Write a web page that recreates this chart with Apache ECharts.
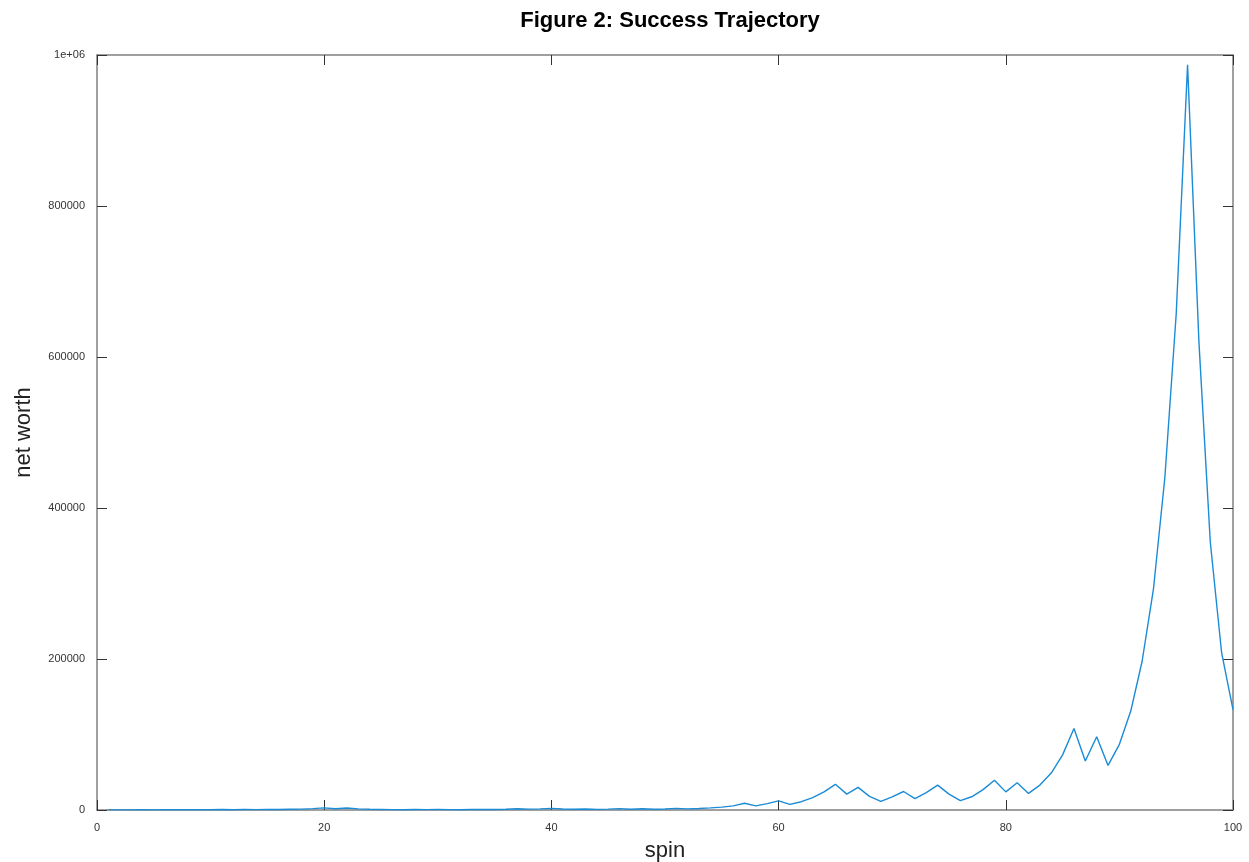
<!DOCTYPE html>
<html>
<head>
<meta charset="utf-8">
<script src="https://cdn.jsdelivr.net/npm/echarts@6/dist/echarts.min.js"></script>
<style>html,body{margin:0;padding:0;background:#fff;}#c{width:1249px;height:862px;}</style>
</head>
<body>
<div id="c"></div>
<script>
const spins = [];
for (let i = 1; i <= 100; i++) spins.push(i);
const netWorth = [
  100, 200, 100, 300, 200, 400, 300, 500, 300, 400,
  600, 400, 700, 500, 800, 600, 900, 1200, 1800, 2800,
  1700, 2600, 1500, 900, 700, 500, 400, 600, 500, 700,
  500, 400, 600, 800, 700, 1000, 1700, 1100, 1500, 2200,
  1400, 900, 1300, 800, 1100, 1800, 1000, 1600, 900, 1400,
  2200, 1500, 2000, 2800, 3800, 5500, 9000, 5500, 8500, 12000,
  7500, 11000, 16500, 24000, 34000, 21000, 30000, 18000, 11500, 17500,
  24500, 15000, 23000, 33000, 21000, 12500, 17500, 27000, 39500, 24000,
  36000, 22000, 33000, 49000, 73000, 108000, 65000, 97000, 59000, 87000,
  131000, 197000, 293000, 440000, 657000, 987000, 620000, 355000, 208000, 133000
];
const xTicks = [0, 20, 40, 60, 80, 100];
const yTickLabels = {0: '0', 200000: '200000', 400000: '400000', 600000: '600000', 800000: '800000', 1000000: '1e+06'};

const chart = echarts.init(document.getElementById('c'));
const frameLine = {show: true, onZero: false, lineStyle: {color: '#808080', width: 1.5}};
const tick = {show: true, inside: true, length: 10, lineStyle: {color: '#333', width: 1}};
const font = '"Liberation Sans", Arial, sans-serif';
chart.setOption({
  animation: false,
  backgroundColor: '#fff',
  title: {
    text: 'Figure 2: Success Trajectory',
    left: 665, top: 5, textAlign: 'center',
    textStyle: {fontFamily: font, fontSize: 22, fontWeight: 'bold', color: '#000'}
  },
  grid: {left: 97, right: 16, top: 55, bottom: 52, containLabel: false, outerBoundsMode: 'none'},
  xAxis: [{
    type: 'value', min: 0, max: 100, interval: 20, position: 'bottom',
    name: 'spin', nameLocation: 'middle', nameGap: 30,
    nameTextStyle: {fontFamily: font, fontSize: 22, color: '#222'},
    axisLine: frameLine, axisTick: tick,
    axisLabel: {fontFamily: font, fontSize: 11, color: '#333', margin: 12},
    splitLine: {show: false}
  }, {
    type: 'value', min: 0, max: 100, interval: 20, position: 'top',
    axisLine: frameLine, axisTick: tick, axisLabel: {show: false}, splitLine: {show: false}
  }],
  yAxis: [{
    type: 'value', min: 0, max: 1000000, interval: 200000, position: 'left',
    name: 'net worth', nameLocation: 'middle', nameGap: 62, nameRotate: 90,
    nameTextStyle: {fontFamily: font, fontSize: 22, color: '#222'},
    axisLine: frameLine, axisTick: tick,
    axisLabel: {fontFamily: font, fontSize: 11, color: '#333', margin: 12,
      formatter: v => (yTickLabels[v] !== undefined ? yTickLabels[v] : String(v))},
    splitLine: {show: false}
  }, {
    type: 'value', min: 0, max: 1000000, interval: 200000, position: 'right',
    axisLine: frameLine, axisTick: tick, axisLabel: {show: false}, splitLine: {show: false}
  }],
  series: [{
    type: 'line',
    data: spins.map((s, i) => [s, netWorth[i]]),
    showSymbol: false, symbol: 'none',
    lineStyle: {color: '#1a8bd6', width: 1.4},
    xAxisIndex: 0, yAxisIndex: 0
  }]
});
</script>
</body>
</html>
